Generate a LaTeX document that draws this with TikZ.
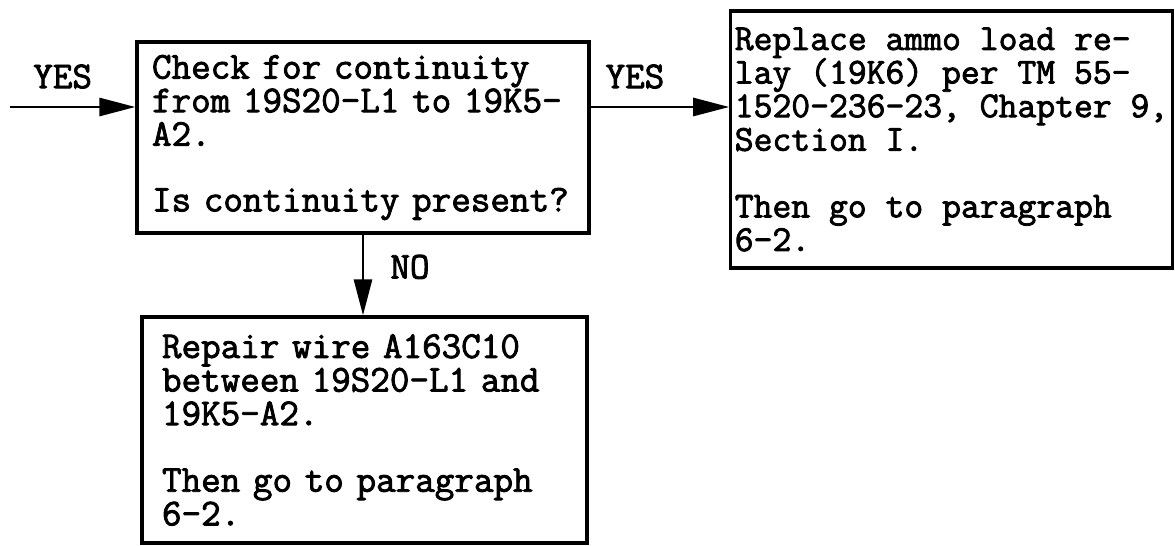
\documentclass[tikz,border=0pt]{standalone}
\usepackage{fontspec}
\newfontfamily\typer{Latin Modern Mono}[FakeBold=2.2]
\usetikzlibrary{arrows.meta, positioning}

\begin{document}
\begin{tikzpicture}[
    x=0.5pt, y=-0.5pt,
    >={Triangle[length=18pt, width=9pt]},
    every node/.style={font=\fontsize{19}{16.8}\selectfont\typer\bfseries},
    stepbox/.style={rectangle, draw, line width=1.6pt, align=left, inner ysep=0pt},
    flow/.style={->, line width=1.4pt},
    answer/.style={inner sep=0pt}
]
    \useasboundingbox (0,0) rectangle (1175,546);

    % --- Boxes ---
    \node[stepbox, minimum width=226pt, minimum height=95.5pt,
          inner xsep=7.5pt, text width=211pt] (check) at (363,137.5)
        {Check for continuity\\from 19S20-L1 to 19K5-\\A2.\\[16pt]Is continuity present?};

    \node[stepbox, minimum width=220.5pt, minimum height=128.5pt,
          inner xsep=2pt, font=\fontsize{18.3}{16.8}\selectfont\typer\bfseries] (replace) at (951.5,139.5)
        {Replace ammo load re-\\lay (19K6) per TM 55-\\1520-236-23, Chapter 9,\\Section I.\\[16.5pt]Then go to paragraph\\6-2.};

    \node[stepbox, minimum width=222.5pt, minimum height=113pt,
          inner xsep=10pt, text width=202.5pt] (repair) at (364.5,430)
        {Repair wire A163C10\\between 19S20-L1 and\\19K5-A2.\\[16.5pt]Then go to paragraph\\6-2.};

    % --- Arrows ---
    \coordinate (entry) at (10,107);
    \draw[flow] (entry) -- node[answer, above=8.5pt, pos=0.42] (yes1) {YES} (entry -| check.west);
    \draw[flow] (check.east |- entry) -- node[answer, above=8.5pt, pos=0.32] (yes2) {YES} (entry -| replace.west);
    \draw[flow] (check.south) -- node[answer, right=13pt, pos=0.4] (no) {NO} (check.south |- repair.north);

\end{tikzpicture}
\end{document}
